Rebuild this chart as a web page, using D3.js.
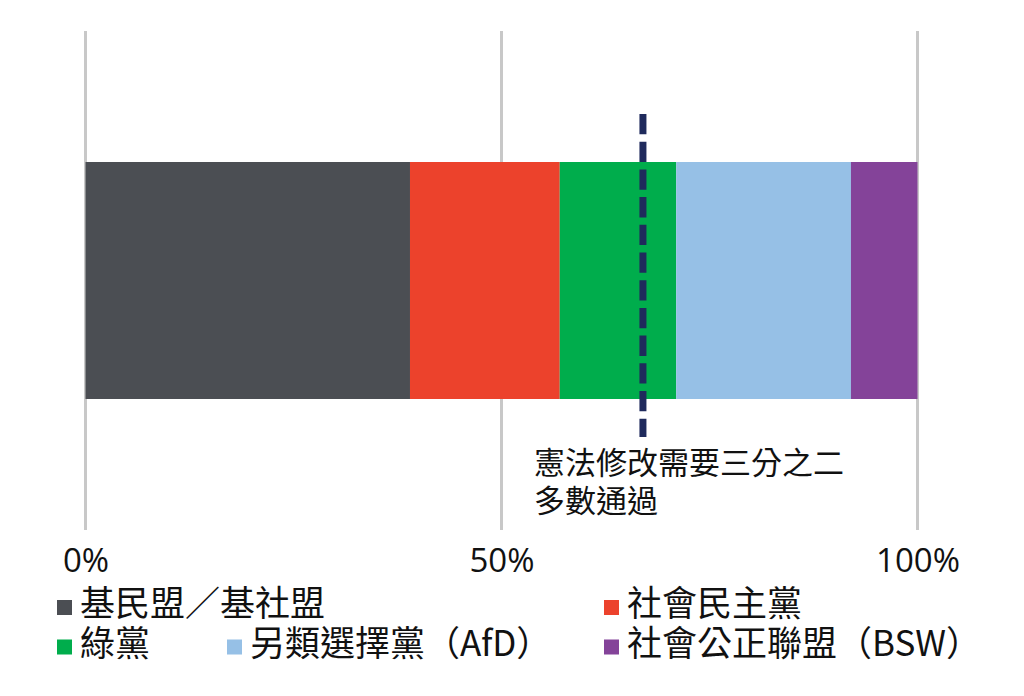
<!DOCTYPE html>
<html>
<head>
<meta charset="utf-8">
<script src="https://cdn.jsdelivr.net/npm/d3@7"></script>
<style>
  html, body { margin: 0; padding: 0; background: #fff; }
  svg { display: block; }
</style>
</head>
<body>
<svg id="chart" width="1024" height="696"></svg>
<script>
// ---- data ----
const categories = ["基民盟／基社盟", "社會民主黨", "綠黨", "另類選擇黨（AfD）", "社會公正聯盟（BSW）"];
const shares = [39, 18, 14, 21, 8];
const colors = ["#4b4e53", "#ec422c", "#00ad4c", "#96c0e6", "#844399"];
const tickValues = [0, 50, 100];
const tickLabels = ["0%", "50%", "100%"];
const thresholdValue = 67;
const annotationLines = ["憲法修改需要三分之二", "多數通過"];

// ---- layout ----
const svg = d3.select("#chart");
const x = d3.scaleLinear().domain([0, 100]).range([85.5, 917.5]);
const y = d3.scaleBand().domain(["seats"]).range([162, 399]).padding(0);
const gridTop = 31, gridBottom = 530;
const latin = "'Open Sans', 'Noto Sans', sans-serif";
const cjk = "'Noto Sans CJK TC', 'Noto Sans CJK SC', sans-serif";

// gridlines
svg.append("g").selectAll("line").data(tickValues).join("line")
  .attr("x1", d => x(d)).attr("x2", d => x(d))
  .attr("y1", gridTop).attr("y2", gridBottom)
  .attr("stroke", "#c8c8c8").attr("stroke-width", 3);

// stacked segments
const stacked = [];
let acc = 0;
shares.forEach((v, i) => { stacked.push({ name: categories[i], x0: acc, x1: acc + v, color: colors[i] }); acc += v; });

svg.append("g").selectAll("rect").data(stacked).join("rect")
  .attr("x", d => x(d.x0))
  .attr("width", d => x(d.x1) - x(d.x0))
  .attr("y", y("seats"))
  .attr("height", y.bandwidth())
  .attr("fill", d => d.color);

// threshold dashed line
svg.append("line")
  .attr("x1", x(thresholdValue)).attr("x2", x(thresholdValue))
  .attr("y1", 114).attr("y2", 437)
  .attr("stroke", "#1f2a5c").attr("stroke-width", 7)
  .attr("stroke-dasharray", "20.3 7.4");

// annotation
const ann = svg.append("text")
  .attr("font-family", cjk).attr("font-size", 31).attr("fill", "#111");
annotationLines.forEach((t, i) => {
  ann.append("tspan").attr("x", 534).attr("y", 474 + i * 37.5).text(t);
});

// axis tick labels
const axis = d3.axisBottom(x).tickValues(tickValues).tickFormat((d, i) => tickLabels[i]).tickSize(0).tickPadding(0);
const gAxis = svg.append("g").attr("transform", "translate(0,548)").call(axis);
gAxis.select(".domain").remove();
gAxis.selectAll("text")
  .attr("font-family", latin).attr("font-size", 33).attr("fill", "#111")
  .attr("dy", null).attr("y", 24);

// legend
const legendPos = [
  { sx: 57, row: 0 }, { sx: 604, row: 0 },
  { sx: 57, row: 1 }, { sx: 227, row: 1 }, { sx: 604, row: 1 }
];
const rowBase = [616, 655.5];
const leg = svg.append("g").selectAll("g").data(categories).join("g");
leg.append("rect")
  .attr("x", (d, i) => legendPos[i].sx)
  .attr("y", (d, i) => rowBase[legendPos[i].row] - 16)
  .attr("width", 15).attr("height", 15)
  .attr("fill", (d, i) => colors[i]);
leg.append("text")
  .attr("x", (d, i) => legendPos[i].sx + 23)
  .attr("y", (d, i) => rowBase[legendPos[i].row])
  .attr("font-family", cjk).attr("font-size", 35).attr("fill", "#111")
  .text(d => d);
</script>
</body>
</html>
